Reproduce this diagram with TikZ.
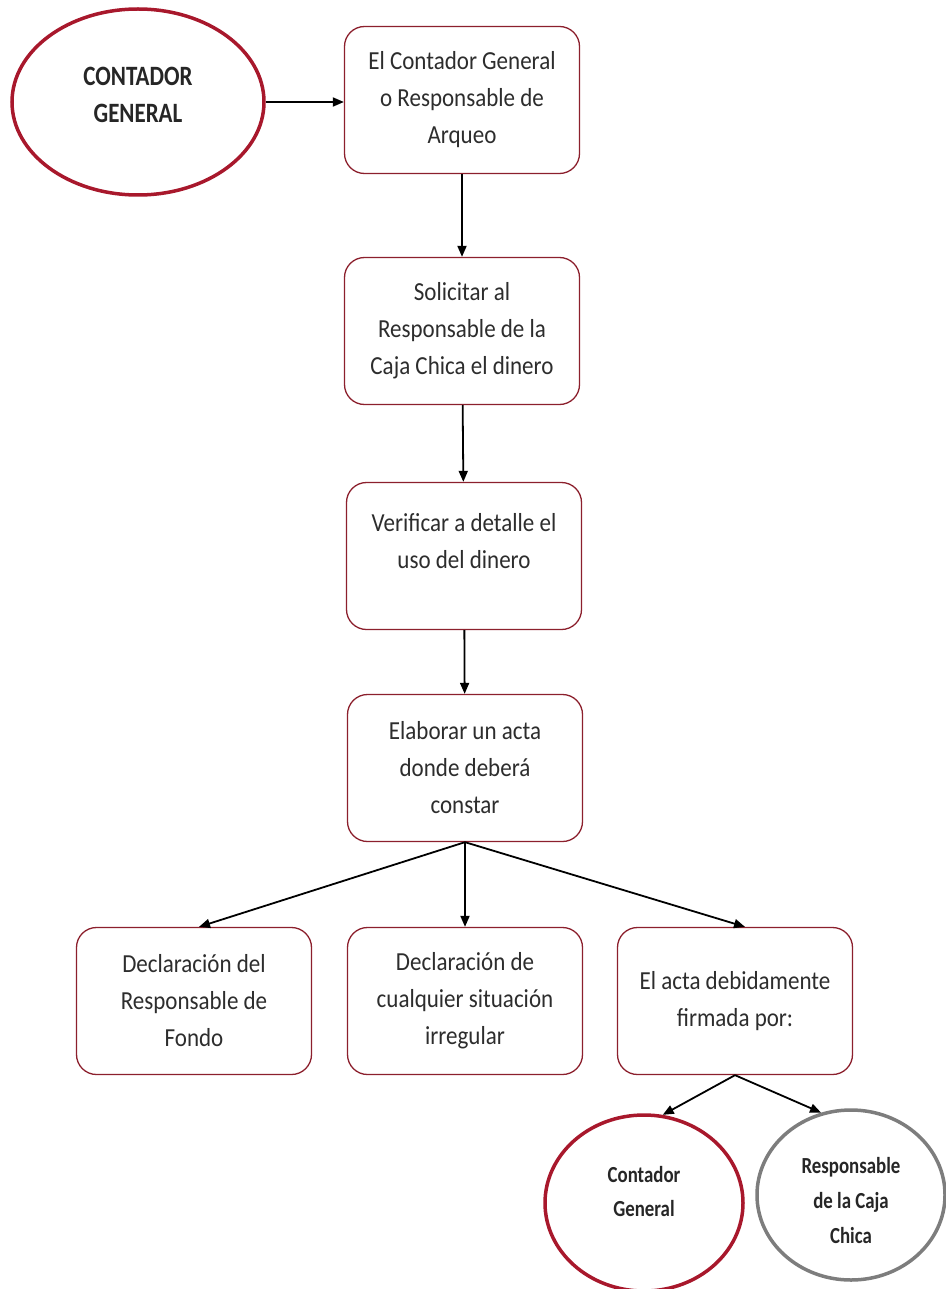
\documentclass[tikz,border=0pt]{standalone}
\usepackage{fontspec}
\setmainfont{Carlito}
\newfontfamily\boxfont[FakeStretch=0.885]{Carlito}
\newfontfamily\ovalfont[FakeStretch=0.82]{Carlito}
\usetikzlibrary{arrows.meta,shapes.geometric}

\definecolor{boxline}{RGB}{140,32,45}
\definecolor{ovalred}{RGB}{168,24,44}
\definecolor{ovalgray}{RGB}{125,125,125}
\definecolor{ink}{RGB}{45,45,45}

\tikzset{
  stepbox/.style={draw=boxline, line width=1.3pt, rounded corners=20pt, fill=white,
    minimum width=235pt, minimum height=147pt, inner sep=0pt, align=center,
    text=ink, font=\boxfont\fontsize{26}{37}\selectfont},
  redoval/.style={ellipse, draw=ovalred, line width=3.5pt, inner sep=0pt,
    align=center, text=black!85},
  grayoval/.style={ellipse, draw=ovalgray, line width=3.5pt, inner sep=0pt,
    align=center, text=black!85},
  arr/.style={-{Triangle[length=11pt,width=9pt]}, line width=1.8pt, black}
}

\begin{document}
\begin{tikzpicture}[x=1pt,y=-1pt]
\useasboundingbox (0,0) rectangle (945,1289);

% starting actor
\node[redoval, minimum width=252pt, minimum height=186pt, text depth=14pt,
      font=\ovalfont\bfseries\fontsize{28}{37}\selectfont] (e1) at (138,102)
  {CONTADOR\\GENERAL};

% main column of steps
\node[stepbox] (b1) at (462,100) {El Contador General\\o Responsable de\\Arqueo};
\node[stepbox] (b2) at (462,331) {Solicitar al\\Responsable de la\\Caja Chica el dinero};
\node[stepbox, text depth=31pt] (b3) at (464,556) {Verificar a detalle el\\uso del dinero};
\node[stepbox] (b4) at (465,768) {Elaborar un acta\\donde deberá\\constar};

% contents of the record
\node[stepbox] (b5) at (194,1001) {Declaración del\\Responsable de\\Fondo};
\node[stepbox] (b6) at (465,1001) {Declaración de\\cualquier situación\\irregular};
\node[stepbox] (b7) at (735,1001) {El acta debidamente\\firmada por:};

% signatories
\node[redoval, minimum width=198pt, minimum height=176pt, text depth=23pt,
      font=\ovalfont\bfseries\fontsize{23}{34}\selectfont] (e3) at (644,1203)
  {Contador\\General};
\node[grayoval, minimum width=188pt, minimum height=170pt,
      font=\ovalfont\bfseries\fontsize{23}{35}\selectfont] (e4) at (851,1195)
  {\rule{0pt}{28pt}Responsable\\de la Caja\\Chica};

% connectors
\draw[arr] (e1.east) -- (e1.east -| b1.west);
\draw[arr] (b1) -- (b2);
\draw[arr] (b2) -- (b3);
\draw[arr] (b3) -- (b4);
\draw[arr] (b4.south) -- ([xshift=5pt]b5.north);
\draw[arr] (b4.south) -- (b6.north);
\draw[arr] (b4.south) -- ([xshift=10pt]b7.north);
\draw[arr] (b7.south) -- (e3.78);
\draw[arr] (b7.south) -- (e4.110);
\end{tikzpicture}
\end{document}
